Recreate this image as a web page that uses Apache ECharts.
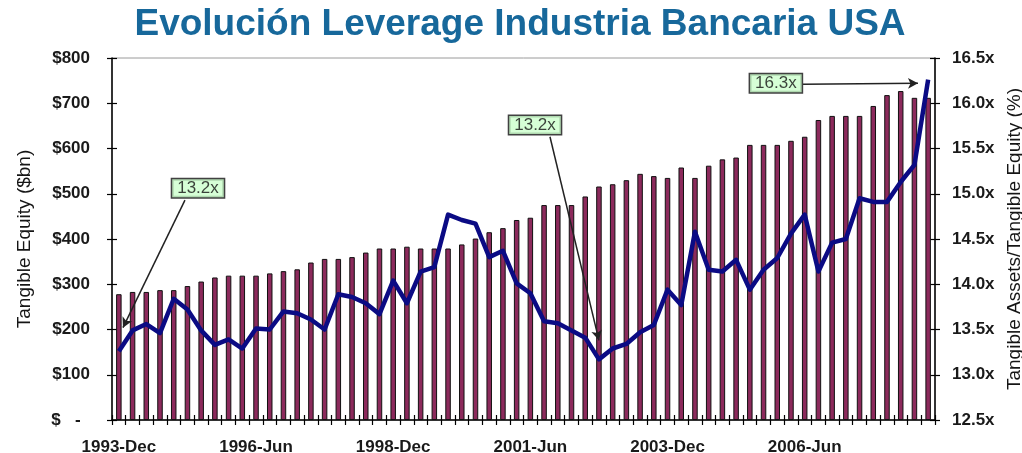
<!DOCTYPE html>
<html>
<head>
<meta charset="utf-8">
<script src="https://cdn.jsdelivr.net/npm/echarts@6/dist/echarts.min.js"></script>
<style>html,body{margin:0;padding:0;background:#fff}#c{width:1022px;height:453px}</style>
</head>
<body>
<div id="c"></div>
<script>
const categories = [
 '1993-Dec','1994-Mar','1994-Jun','1994-Sep','1994-Dec','1995-Mar','1995-Jun','1995-Sep','1995-Dec','1996-Mar',
 '1996-Jun','1996-Sep','1996-Dec','1997-Mar','1997-Jun','1997-Sep','1997-Dec','1998-Mar','1998-Jun','1998-Sep',
 '1998-Dec','1999-Mar','1999-Jun','1999-Sep','1999-Dec','2000-Mar','2000-Jun','2000-Sep','2000-Dec','2001-Mar',
 '2001-Jun','2001-Sep','2001-Dec','2002-Mar','2002-Jun','2002-Sep','2002-Dec','2003-Mar','2003-Jun','2003-Sep',
 '2003-Dec','2004-Mar','2004-Jun','2004-Sep','2004-Dec','2005-Mar','2005-Jun','2005-Sep','2005-Dec','2006-Mar',
 '2006-Jun','2006-Sep','2006-Dec','2007-Mar','2007-Jun','2007-Sep','2007-Dec','2008-Mar','2008-Jun','2008-Sep'
];
const tangibleEquity = [
 278,283,283,287,287,296,306,315,319,319,
 319,324,329,333,348,356,356,360,370,379,
 379,383,379,379,379,388,401,415,424,442,
 447,475,475,475,494,516,521,530,544,539,
 535,558,535,562,576,580,608,608,608,617,
 626,663,672,672,672,694,718,727,712,712
];
const leverage = [
 13.26,13.49,13.56,13.46,13.84,13.72,13.49,13.33,13.39,13.29,
 13.51,13.50,13.70,13.68,13.61,13.50,13.89,13.86,13.79,13.67,
 14.04,13.79,14.14,14.19,14.77,14.71,14.67,14.30,14.37,14.01,
 13.90,13.59,13.57,13.49,13.41,13.17,13.29,13.34,13.47,13.55,
 13.94,13.77,14.58,14.16,14.14,14.27,13.94,14.16,14.29,14.56,
 14.77,14.14,14.46,14.50,14.95,14.91,14.91,15.13,15.32,16.26
];
// annotation boxes: [x (category units), y (leverage units), text]
const calloutLabels = [[5.77, 15.06, '13.2x'], [30.34, 15.76, '13.2x'], [47.9, 16.22, '16.3x']];
// arrows: [[x1,y1],[x2,y2]] in category / leverage units
const calloutArrows = [
 [[4.82, 14.93], [0.30, 13.52]],
 [[31.43, 15.63], [35.0, 13.38]],
 [[49.88, 16.21], [58.26, 16.22]]
];
const leftTicks = {min: 0, max: 800, interval: 100};
const rightTicks = {min: 12.5, max: 16.5, interval: 0.5};
const titleText = 'Evolución Leverage Industria Bancaria USA';

const FONT = 'Liberation Sans, Arial, sans-serif';
const chart = echarts.init(document.getElementById('c'), null, {renderer: 'canvas'});
const axisTxt = {fontFamily: FONT, fontSize: 17, fontWeight: 'bold', color: '#1a1a1a'};
const tick = (inside) => ({show: true, inside: inside, length: 5, interval: 0, lineStyle: {color: '#000', width: 1.2}});
const line = (show) => ({show: show, onZero: false, lineStyle: {color: '#000', width: 1.5}});
chart.setOption({
  animation: false,
  graphic: [{
    type: 'text', x: 520, y: 25,
    style: {text: titleText, textAlign: 'center', textVerticalAlign: 'middle',
      fontFamily: FONT, fontSize: 37, fontWeight: 'bold', fill: '#17689b'}
  }],
  grid: {left: 112, right: 87, top: 58, bottom: 33, show: true, borderColor: '#9a9a9a', borderWidth: 1,
         outerBoundsMode: 'none', containLabel: false},
  xAxis: [
    {type: 'category', data: categories, position: 'bottom',
     axisLine: line(true), axisTick: tick(false),
     axisLabel: Object.assign({interval: 9, margin: 19}, axisTxt)},
    {type: 'value', min: -0.5, max: 59.5, show: false, position: 'top', axisLine: line(false)},
    {type: 'category', data: categories, position: 'bottom',
     axisLine: line(false), axisLabel: {show: false}, axisTick: tick(true)}
  ],
  yAxis: [
    {type: 'value', position: 'left', min: leftTicks.min, max: leftTicks.max, interval: leftTicks.interval,
     name: 'Tangible Equity ($bn)', nameLocation: 'middle', nameGap: 78, nameRotate: 90,
     nameTextStyle: {fontFamily: FONT, fontSize: 19, color: '#151515'},
     splitLine: {show: false}, axisLine: line(true), axisTick: tick(false),
     axisLabel: Object.assign({margin: 22, formatter: v => v === 0 ? '$   -  ' : '$' + v}, axisTxt)},
    {type: 'value', position: 'right', min: rightTicks.min, max: rightTicks.max, interval: rightTicks.interval,
     name: 'Tangible Assets/Tangible Equity (%)', nameLocation: 'middle', nameGap: 66, nameRotate: 90,
     nameTextStyle: {fontFamily: FONT, fontSize: 19, color: '#151515'},
     splitLine: {show: false}, axisLine: line(true), axisTick: tick(false),
     axisLabel: Object.assign({margin: 17, formatter: v => v.toFixed(1) + 'x'}, axisTxt)},
    {type: 'value', position: 'left', min: leftTicks.min, max: leftTicks.max, interval: leftTicks.interval,
     splitLine: {show: false}, axisLine: line(false), axisLabel: {show: false}, axisTick: tick(true)},
    {type: 'value', position: 'right', min: rightTicks.min, max: rightTicks.max, interval: rightTicks.interval,
     splitLine: {show: false}, axisLine: line(false), axisLabel: {show: false}, axisTick: tick(true)}
  ],
  series: [
    {type: 'bar', xAxisIndex: 0, yAxisIndex: 0, data: tangibleEquity, barWidth: 5.5,
     itemStyle: {color: '#8c2a5c', borderColor: '#111', borderWidth: 1}},
    {type: 'line', xAxisIndex: 0, yAxisIndex: 1, data: leverage, showSymbol: false, symbol: 'none',
     lineStyle: {color: '#0b0b84', width: 4.5, join: 'round'}, z: 3},
    {type: 'scatter', xAxisIndex: 1, yAxisIndex: 1, z: 5,
     data: calloutLabels, symbolSize: 1, itemStyle: {color: 'transparent'},
     label: {show: true, position: 'inside', formatter: p => p.value[2],
       fontFamily: FONT, fontSize: 17, color: '#111', backgroundColor: '#ccffcc',
       borderColor: '#111', borderWidth: 1.5, padding: [1, 5, 0, 5]},
     markLine: {silent: true, symbol: ['none', 'arrow'], symbolSize: [8, 10],
       lineStyle: {color: '#222', width: 1.5, type: 'solid'}, label: {show: false},
       data: calloutArrows.map(a => [{coord: a[0]}, {coord: a[1]}])}}
  ]
});
</script>
</body>
</html>
